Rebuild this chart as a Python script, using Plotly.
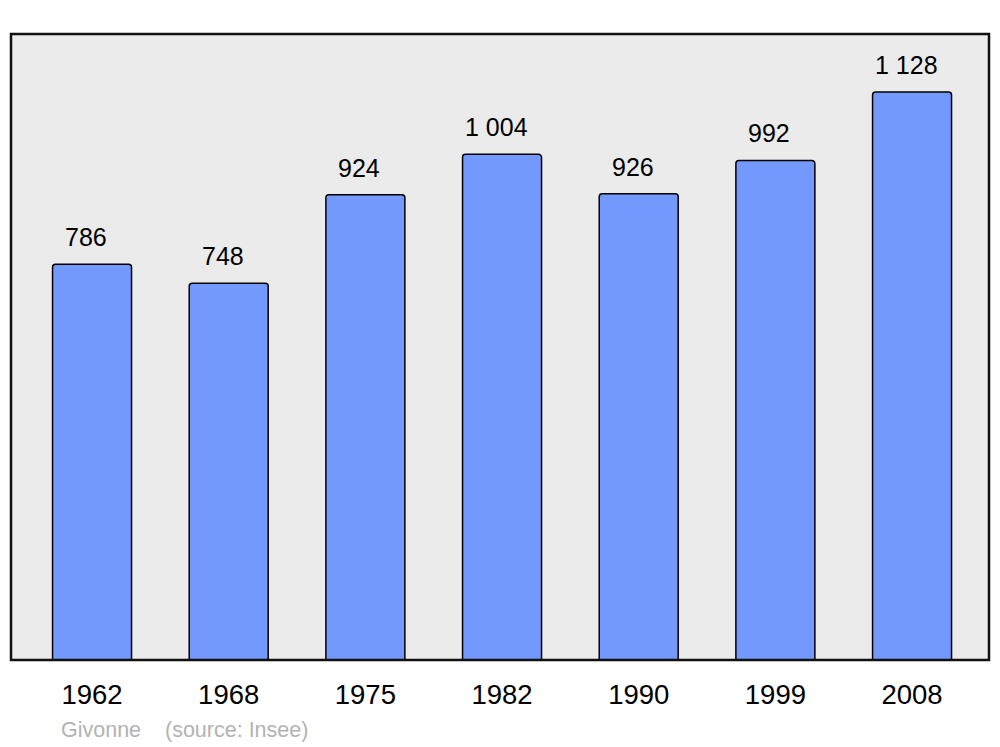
import plotly.graph_objects as go

years = ["1962", "1968", "1975", "1982", "1990", "1999", "2008"]
population = [786, 748, 924, 1004, 926, 992, 1128]
labels = ["786", "748", "924", "1 004", "926", "992", "1 128"]
place = "Givonne"
source = "(source: Insee)"

W, H = 1000, 747
L, T = 11, 34
R = W - 989
B = H - 660
FONT = "Liberation Sans, Arial, sans-serif"

fig = go.Figure()
fig.add_trace(go.Bar(
    x=list(range(len(years))), y=population,
    width=0.578,
    marker=dict(color="#7399ff", line=dict(color="#000000", width=1.5), cornerradius=3),
    hoverinfo="skip",
))

for i, (v, t) in enumerate(zip(population, labels)):
    fig.add_annotation(x=i, y=v, text=t, showarrow=False, yanchor="bottom",
                       yshift=11, xshift=-6,
                       font=dict(size=25, color="#000000", family=FONT))

fig.add_shape(type="rect", xref="paper", yref="paper", x0=0, x1=1, y0=0, y1=1,
              line=dict(color="#111111", width=2.5), layer="above")

ph = H - T - B
pw = W - L - R
src_y = -(730 - (H - B)) / ph
fig.add_annotation(xref="paper", yref="paper", x=(59 - L) / pw, y=src_y,
                   text=place, showarrow=False, xanchor="left", yanchor="middle",
                   font=dict(size=21.5, color="#b3b3b3", family=FONT))
fig.add_annotation(xref="paper", yref="paper", x=(163 - L) / pw, y=src_y,
                   text=source, showarrow=False, xanchor="left", yanchor="middle",
                   font=dict(size=21.5, color="#b3b3b3", family=FONT))

fig.update_layout(
    width=W, height=H,
    margin=dict(l=L, r=R, t=T, b=B),
    paper_bgcolor="#ffffff", plot_bgcolor="#ebebeb",
    showlegend=False,
    font=dict(family=FONT, color="#000000"),
)
fig.update_xaxes(range=[-0.593, 6.563], tickmode="array",
                 tickvals=list(range(len(years))), ticktext=years,
                 showgrid=False, zeroline=False, ticks="",
                 tickfont=dict(size=27.5), ticklabelstandoff=15)
fig.update_yaxes(range=[0, 1243], showgrid=False, zeroline=False,
                 showticklabels=False, ticks="")

fig.write_html("out.html", config={"displayModeBar": False, "staticPlot": True},
               post_script="document.body.style.margin='0';document.body.style.overflow='hidden';")
